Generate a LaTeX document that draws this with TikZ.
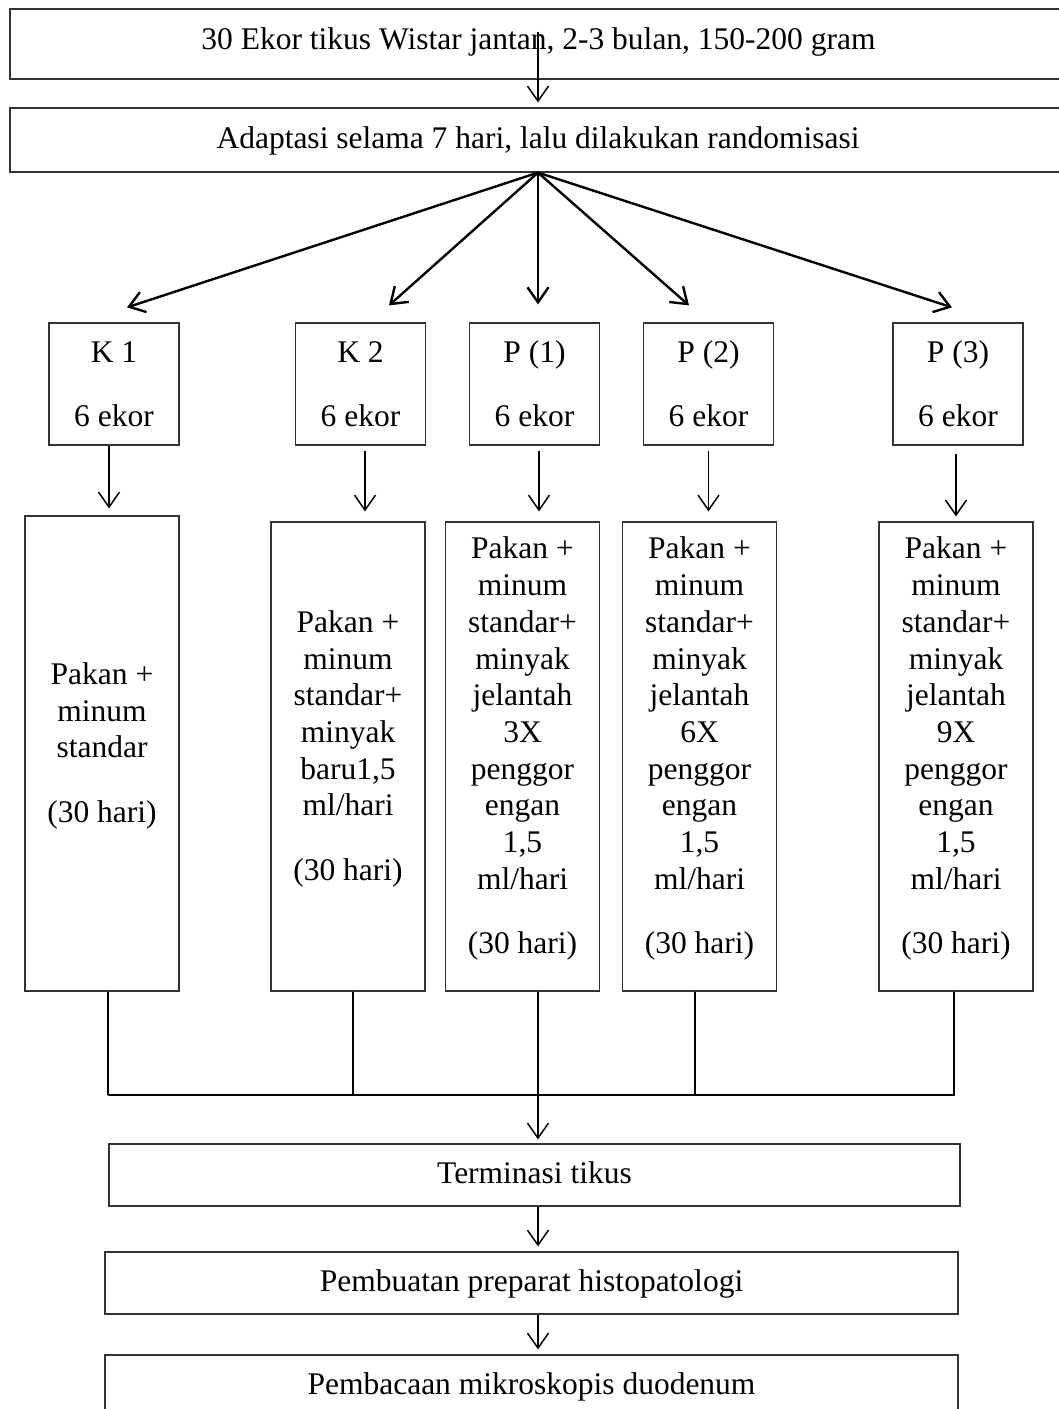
\documentclass[tikz,border=0pt]{standalone}
\usepackage{fontspec}
\setmainfont{Liberation Serif}
\usetikzlibrary{positioning,arrows.meta,calc}

\begin{document}
\begin{tikzpicture}[
  x=1pt, y=1pt,
  font=\fontsize{31.5}{36.7}\selectfont,
  >={Straight Barb[length=15pt,width=21pt]},
  box/.style={draw=black!80, line width=1.2pt, align=center, inner sep=0pt},
  wide/.style={box, minimum height=62pt, text height=20pt, text depth=3pt},
  grp/.style={box, minimum width=130pt, minimum height=122pt},
  tall/.style={box, minimum width=154pt, minimum height=469pt, text depth=22pt},
  arr/.style={->, line width=1.5pt},
  fan/.style={->, line width=2.4pt},
  link/.style={line width=1.5pt},
]
\useasboundingbox (0,0) rectangle (1059,-1409);

% top of the flow
\node[wide, minimum width=1057pt, minimum height=70pt, text height=21pt, text depth=11pt] (rats) at (538.5,-44)
  {30 Ekor tikus Wistar jantan, 2-3 bulan, 150-200 gram};
\node[wide, minimum width=1056pt, minimum height=64pt, text height=21pt, text depth=5pt] (adapt) at (538,-140)
  {Adaptasi selama 7 hari, lalu dilakukan randomisasi};

% groups
\node[grp] (k1) at (114,-384)   {K 1\\[27pt]6 ekor};
\node[grp] (k2) at (360.5,-384) {K 2\\[27pt]6 ekor};
\node[grp] (p1) at (534.5,-384) {P (1)\\[27pt]6 ekor};
\node[grp] (p2) at (708.5,-384) {P (2)\\[27pt]6 ekor};
\node[grp] (p3) at (958,-384)   {P (3)\\[27pt]6 ekor};

% treatments
\node[tall, minimum height=475pt] (k1diet) at (102,-753.5)
  {Pakan +\\minum\\standar\\[28pt](30 hari)};
\node[tall] (k2diet) at (348,-756.5)
  {Pakan +\\minum\\standar+\\minyak\\baru1,5\\ml/hari\\[28pt](30 hari)};
\node[tall] (p1diet) at (522.5,-756.5)
  {Pakan +\\minum\\standar+\\minyak\\jelantah\\3X\\penggor\\engan\\1,5\\ml/hari\\[28pt](30 hari)};
\node[tall] (p2diet) at (699.5,-756.5)
  {Pakan +\\minum\\standar+\\minyak\\jelantah\\6X\\penggor\\engan\\1,5\\ml/hari\\[28pt](30 hari)};
\node[tall] (p3diet) at (956,-756.5)
  {Pakan +\\minum\\standar+\\minyak\\jelantah\\9X\\penggor\\engan\\1,5\\ml/hari\\[28pt](30 hari)};

% end of the flow
\coordinate (bus) at (538,-1095);
\node[wide, minimum width=851pt] (term) at (534.5,-1175) {Terminasi tikus};
\node[wide, minimum width=853pt] (prep) at (531.5,-1283) {Pembuatan preparat histopatologi};
\node[wide, minimum width=853pt] (read) at (531.5,-1386) {Pembacaan mikroskopis duodenum};

\draw[arr] ([yshift=48pt]rats.south -| adapt.north) -- ([yshift=5pt]adapt.north);
\foreach \n/\dx/\dy in {k1/13/15, k2/28.5/17, p1/3.5/18, p2/-19.5/17, p3/-6/15}
  \draw[fan] (adapt.south) -- ([shift={(\dx,\dy)}]\n.north);
\foreach \n/\dx/\sa/\sb in {k1/-5/0/7, k2/4.5/5/10, p1/4.5/5/10, p2/0/5/10, p3/-2/8/5}
  \draw[arr] ([shift={(\dx,-\sa)}]\n.south) -- ([shift={(\dx,\sb)}]\n.south |- \n diet.north);

\foreach \n/\dx in {k1/6, k2/5, p2/-4.5, p3/-2}
  \draw[link] ([xshift=\dx pt]\n diet.south) -- ([xshift=\dx pt]\n diet.south |- bus);
\draw[line width=2pt] ([xshift=6pt]k1diet.south |- bus) -- ([xshift=-1pt]p3diet.south |- bus);
\draw[arr] (p1diet.south -| bus) -- ([yshift=4pt]term.north -| bus);
\draw[arr] (term.south -| bus) -- ([yshift=5pt]prep.north -| bus);
\draw[arr] (prep.south -| bus) -- ([yshift=5pt]read.north -| bus);
\end{tikzpicture}
\end{document}
